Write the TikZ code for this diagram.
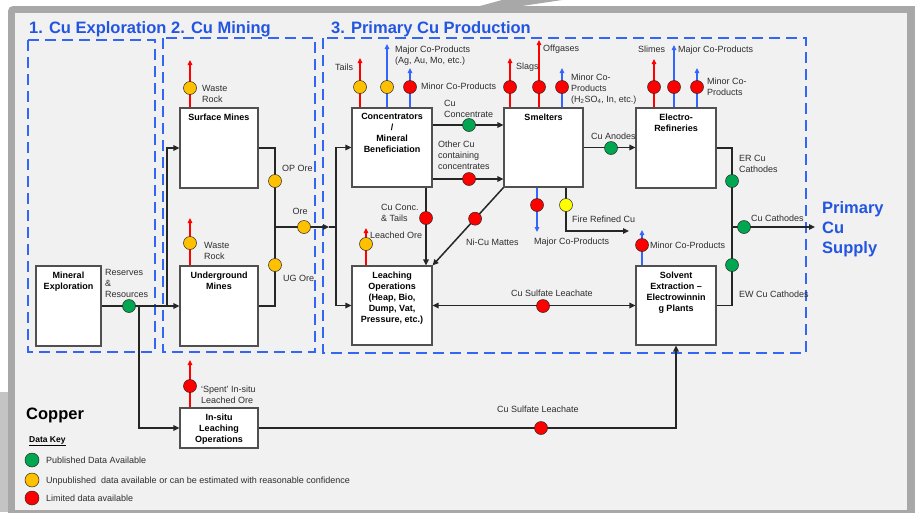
\documentclass[tikz,border=0pt]{standalone}
\usepackage{fontspec}
\setmainfont{Liberation Sans}
\usetikzlibrary{arrows.meta,calc}

\definecolor{panel}{RGB}{241,241,241}
\definecolor{framegray}{RGB}{168,168,168}
\definecolor{sidegray}{RGB}{196,196,196}
\definecolor{titleblue}{RGB}{34,85,225}
\definecolor{dashblue}{RGB}{51,102,245}
\definecolor{outblue}{RGB}{51,102,255}
\definecolor{wirec}{RGB}{38,38,38}
\definecolor{boxc}{RGB}{80,80,80}
\definecolor{lblc}{RGB}{45,45,45}
\definecolor{cgreen}{RGB}{0,166,80}
\definecolor{corange}{RGB}{255,192,0}
\definecolor{cred}{RGB}{255,0,0}
\definecolor{cyellow}{RGB}{255,255,0}

\begin{document}
\begin{tikzpicture}[x=1pt,y=-1pt,
  zone/.style={draw=dashblue, line width=1.8pt, dash pattern=on 11pt off 6pt},
  ttl/.style={text=titleblue, font=\fontsize{16.5}{20}\selectfont\bfseries, inner sep=0},
  procbox/.style={draw=boxc, fill=white, line width=1.1pt, inner sep=0},
  btitle/.style={anchor=north, align=center, inner sep=0, font=\fontsize{9}{11}\selectfont\bfseries},
  lbl/.style={text=lblc, inner sep=0, anchor=base west, font=\fontsize{9}{11}\selectfont},
  mlbl/.style={text=lblc, inner sep=0, anchor=west, align=left, font=\fontsize{9}{11}\selectfont},
  wire/.style={draw=wirec, line width=1.5pt},
  flow/.style={wire, -{Triangle[length=6pt,width=5.5pt]}},
  both/.style={wire, {Triangle[length=6pt,width=5.5pt]}-{Triangle[length=6pt,width=5.5pt]}},
  redout/.style={draw=cred, line width=1.1pt, -{Triangle[length=5pt,width=4.5pt]}},
  blueout/.style={draw=outblue, line width=1.3pt, -{Triangle[length=5pt,width=4.5pt]}},
  dot/.style={circle, draw=wirec, line width=0.5pt, minimum size=13pt, inner sep=0},
  gdot/.style={dot, fill=cgreen},
  odot/.style={dot, fill=corange},
  rdot/.style={dot, fill=cred},
  ydot/.style={dot, fill=cyellow},
  keydot/.style={dot, minimum size=14pt}
]
\useasboundingbox (0,0) rectangle (915,512);

% page, slide frame and panel
\fill[white] (0,0) rectangle (915,512);
\fill[framegray, rounded corners=5pt] (8,6) rectangle (935,530);
\fill[panel] (15,13) rectangle (907,510);
\fill[sidegray] (0,392) rectangle (8,512);
\fill[framegray] (458,12) -- (502,0) -- (562,0) -- (522,6) -- (478,12) -- cycle;

% stage zones
\draw[zone] (28,40) rectangle (155,352);
\draw[zone] (163,38) rectangle (315,352);
\draw[zone] (323,38) rectangle (806,353);

\node[ttl, anchor=base west] (t1) at (29,33) {1. Cu Exploration};
\node[ttl, anchor=base west] (t2) at (171,33) {2. Cu Mining};
\node[ttl, anchor=base west] (t3) at (331,33) {3. Primary Cu Production};
\node[ttl, anchor=north west, align=left] (supply) at (822,201) {Primary\\Cu\\Supply};

% process boxes
\node[procbox, minimum width=65pt, minimum height=80pt] (me) at (68.5,306) {};
\node[procbox, minimum width=78pt, minimum height=80pt] (sm) at (219,148) {};
\node[procbox, minimum width=78pt, minimum height=80pt] (um) at (219,306) {};
\node[procbox, minimum width=78pt, minimum height=40pt] (isl) at (219,428) {};
\node[procbox, minimum width=80pt, minimum height=79pt] (conc) at (392,147.5) {};
\node[procbox, minimum width=79pt, minimum height=79pt] (smelt) at (543.5,147.5) {};
\node[procbox, minimum width=80pt, minimum height=80pt] (er) at (676,148) {};
\node[procbox, minimum width=80pt, minimum height=79pt] (leach) at (392,305.5) {};
\node[procbox, minimum width=80pt, minimum height=79pt] (sx) at (676,305.5) {};

\node[btitle] (me-t) at ($(me.north)+(0,6)$) {Mineral\\Exploration};
\node[btitle] (sm-t) at ($(sm.north)+(0,6)$) {Surface Mines};
\node[btitle] (um-t) at ($(um.north)+(0,6)$) {Underground\\Mines};
\node[btitle] (isl-t) at ($(isl.north)+(0,6)$) {In-situ\\Leaching\\Operations};
\node[btitle] (conc-t) at ($(conc.north)+(0,6)$) {Concentrators\\/\\Mineral\\Beneficiation};
\node[btitle] (smelt-t) at ($(smelt.north)+(0,6)$) {Smelters};
\node[btitle] (er-t) at ($(er.north)+(0,6)$) {Electro-\\Refineries};
\node[btitle] (leach-t) at ($(leach.north)+(0,6.5)$) {Leaching\\Operations\\(Heap, Bio,\\Dump, Vat,\\Pressure, etc.)};
\node[btitle] (sx-t) at ($(sx.north)+(0,6.5)$) {Solvent\\Extraction –\\Electrowinnin\\g Plants};

% positions of data points and free arrow ends
\coordinate (p-resv) at (129,306);
\coordinate (j-sm) at (167,306);
\coordinate (j-isl) at (139,306);
\coordinate (p-op) at (275,181);
\coordinate (p-ug) at (275,265);
\coordinate (p-ore) at (304,227);
\coordinate (j-ore) at (275,227);
\coordinate (ore-tip) at (329,227);
\coordinate (j-conc) at (336,227);
\coordinate (p-wr1) at (190,88);   \coordinate (tip-wr1) at (190,60);
\coordinate (p-wr2) at (190,243);  \coordinate (tip-wr2) at (190,218);
\coordinate (p-spent) at (190,386);\coordinate (tip-spent) at (190,360);
\coordinate (p-tails) at (360,87); \coordinate (tip-tails) at (360,58);
\coordinate (p-cmaj) at (387,87);  \coordinate (tip-cmaj) at (387,44);
\coordinate (p-cmin) at (410,87);  \coordinate (tip-cmin) at (410,68);
\coordinate (p-ccon) at (469,125);
\coordinate (p-other) at (469,179);
\coordinate (p-ctails) at (426,218);
\coordinate (p-leo) at (366,244);  \coordinate (tip-leo) at (366,228);
\coordinate (p-slag) at (510,87);  \coordinate (tip-slag) at (510,58);
\coordinate (p-offg) at (539,87);  \coordinate (tip-offg) at (539,40);
\coordinate (p-smin) at (562,87);  \coordinate (tip-smin) at (562,68);
\coordinate (p-smaj) at (537,205); \coordinate (tip-smaj) at (537,232);
\coordinate (p-fire) at (566,205); \coordinate (tip-fire) at (629,231);
\coordinate (p-anode) at (611,148);
\coordinate (p-slime) at (654,87); \coordinate (tip-slime) at (654,59);
\coordinate (p-emaj) at (674,87);  \coordinate (tip-emaj) at (674,45);
\coordinate (p-emin) at (697,87);  \coordinate (tip-emin) at (697,68);
\coordinate (p-ercat) at (732,181);
\coordinate (p-cat) at (744,227);  \coordinate (tip-cat) at (815,227);
\coordinate (p-ewcat) at (732,265);
\coordinate (p-xmin) at (642,245); \coordinate (tip-xmin) at (642,230);
\coordinate (p-leach) at (543,306);
\coordinate (p-isleach) at (541,428);
\coordinate (p-matte) at ($(smelt.south west)!0.4!(leach.north east)$);

% main material flows
\draw[flow] (me.east) -- (um.west);
\draw[flow] (j-sm) |- (sm.west);
\draw[flow] (j-isl) |- (isl.west);
\draw[wire] (sm.east) -| (j-ore);
\draw[wire] (um.east) -| (j-ore);
\draw[flow] (j-ore) -- (ore-tip);
\draw[wire] (ore-tip) -- (j-conc);
\draw[flow] (j-conc) |- (conc.west);
\draw[flow] (j-conc) |- (leach.west);
\draw[flow] (conc.east |- p-ccon) -- (smelt.west |- p-ccon);
\draw[flow] (conc.east |- p-other) -- (smelt.west |- p-other);
\draw[flow] (conc.south -| p-ctails) -- (leach.north -| p-ctails);
\draw[flow] (smelt.south west) -- (leach.north east);
\draw[flow] (smelt.east) -- (er.west |- smelt.east);
\draw[flow] (smelt.south -| p-fire) |- (tip-fire);
\draw[wire] (er.east) -| (sx.east -| p-ercat) -- (sx.east);
\draw[flow] (p-cat -| p-ercat) -- (tip-cat);
\draw[both] (leach.east) -- (sx.west);
\draw[flow] (isl.east) -| (sx.south);

% by-product outputs
\draw[redout] (sm.north -| p-wr1) -- (tip-wr1);
\draw[redout] (um.north -| p-wr2) -- (tip-wr2);
\draw[redout] (isl.north -| p-spent) -- (tip-spent);
\draw[redout] (conc.north -| p-tails) -- (tip-tails);
\draw[blueout] (conc.north -| p-cmaj) -- (tip-cmaj);
\draw[blueout] (conc.north -| p-cmin) -- (tip-cmin);
\draw[redout] (leach.north -| p-leo) -- (tip-leo);
\draw[redout] (smelt.north -| p-slag) -- (tip-slag);
\draw[redout] (smelt.north -| p-offg) -- (tip-offg);
\draw[blueout] (smelt.north -| p-smin) -- (tip-smin);
\draw[blueout] (smelt.south -| p-smaj) -- (tip-smaj);
\draw[redout] (er.north -| p-slime) -- (tip-slime);
\draw[blueout] (er.north -| p-emaj) -- (tip-emaj);
\draw[blueout] (er.north -| p-emin) -- (tip-emin);
\draw[blueout] (sx.north -| p-xmin) -- (tip-xmin);

% data availability markers
\node[gdot] (d-resv) at (p-resv) {};
\node[odot] (d-op) at (p-op) {};
\node[odot] (d-ug) at (p-ug) {};
\node[odot] (d-ore) at (p-ore) {};
\node[odot] (d-wr1) at (p-wr1) {};
\node[odot] (d-wr2) at (p-wr2) {};
\node[rdot] (d-spent) at (p-spent) {};
\node[odot] (d-tails) at (p-tails) {};
\node[odot] (d-cmaj) at (p-cmaj) {};
\node[rdot] (d-cmin) at (p-cmin) {};
\node[gdot] (d-ccon) at (p-ccon) {};
\node[rdot] (d-other) at (p-other) {};
\node[rdot] (d-ctails) at (p-ctails) {};
\node[rdot] (d-matte) at (p-matte) {};
\node[odot] (d-leo) at (p-leo) {};
\node[rdot] (d-slag) at (p-slag) {};
\node[rdot] (d-offg) at (p-offg) {};
\node[rdot] (d-smin) at (p-smin) {};
\node[rdot] (d-smaj) at (p-smaj) {};
\node[ydot] (d-fire) at (p-fire) {};
\node[gdot] (d-anode) at (p-anode) {};
\node[rdot] (d-slime) at (p-slime) {};
\node[rdot] (d-emaj) at (p-emaj) {};
\node[rdot] (d-emin) at (p-emin) {};
\node[gdot] (d-ercat) at (p-ercat) {};
\node[gdot] (d-cat) at (p-cat) {};
\node[gdot] (d-ewcat) at (p-ewcat) {};
\node[rdot] (d-xmin) at (p-xmin) {};
\node[rdot] (d-leach) at (p-leach) {};
\node[rdot] (d-isleach) at (p-isleach) {};

% flow labels
\node[mlbl] (l-resv) at (105,283) {Reserves\\\&\\Resources};
\node[mlbl] (l-wr1) at (202,93.5) {Waste\\Rock};
\node[mlbl] (l-wr2) at (204,250.5) {Waste\\Rock};
\node[mlbl] (l-spent) at (201,395) {‘Spent’ In-situ\\Leached Ore};
\node[lbl] (l-op) at (282,171) {OP Ore};
\node[lbl, anchor=base] (l-ore) at (300,214) {Ore};
\node[lbl] (l-ug) at (283,281) {UG Ore};
\node[lbl] (l-tails) at (335,70) {Tails};
\node[mlbl] (l-cmaj) at (395,56) {Major Co-Products\\(Ag, Au, Mo, etc.)};
\node[lbl] (l-cmin) at (421,89) {Minor Co-Products};
\node[mlbl] (l-ccon) at (444,108.5) {Cu\\Concentrate};
\node[mlbl] (l-other) at (438,155) {Other Cu\\containing\\concentrates};
\node[mlbl] (l-ctails) at (381,212.5) {Cu Conc.\\\& Tails};
\node[lbl] (l-leo) at (370,238) {Leached Ore};
\node[lbl] (l-matte) at (466,245) {Ni-Cu Mattes};
\node[lbl] (l-slag) at (516,69) {Slags};
\node[lbl] (l-offg) at (543,51) {Offgases};
\node[mlbl] (l-smin) at (571,89) {Minor Co-\\Products\\(H\textsubscript{2}SO\textsubscript{4}, In, etc.)};
\node[lbl] (l-smaj) at (534,244) {Major Co-Products};
\node[lbl] (l-fire) at (572,222) {Fire Refined Cu};
\node[lbl] (l-anode) at (591,139) {Cu Anodes};
\node[lbl] (l-slime) at (638,52) {Slimes};
\node[lbl] (l-emaj) at (678,52) {Major Co-Products};
\node[mlbl] (l-emin) at (707,86.5) {Minor Co-\\Products};
\node[mlbl] (l-ercat) at (739,163.5) {ER Cu\\Cathodes};
\node[lbl] (l-cat) at (751,221) {Cu Cathodes};
\node[lbl] (l-ewcat) at (739,297) {EW Cu Cathodes};
\node[lbl] (l-xmin) at (650,248) {Minor Co-Products};
\node[lbl] (l-leach) at (511,296) {Cu Sulfate Leachate};
\node[lbl] (l-isleach) at (497,412) {Cu Sulfate Leachate};

% key
\node[anchor=base west, inner sep=0, font=\fontsize{16.5}{20}\selectfont\bfseries] (copper) at (26,419) {Copper};
\node[anchor=base west, inner sep=0, font=\fontsize{8.5}{10}\selectfont\bfseries] (datakey) at (29,442) {\underline{Data Key}};
\node[keydot, fill=cgreen] (k-green) at (32,460) {};
\node[keydot, fill=corange] (k-orange) at (32,480) {};
\node[keydot, fill=cred] (k-red) at (32,498) {};
\node[lbl] (k-green-t) at (46,463) {Published Data Available};
\node[lbl] (k-orange-t) at (46,483) {Unpublished\ \ data available or can be estimated with reasonable confidence};
\node[lbl] (k-red-t) at (46,501) {Limited data available};
\end{tikzpicture}
\end{document}
